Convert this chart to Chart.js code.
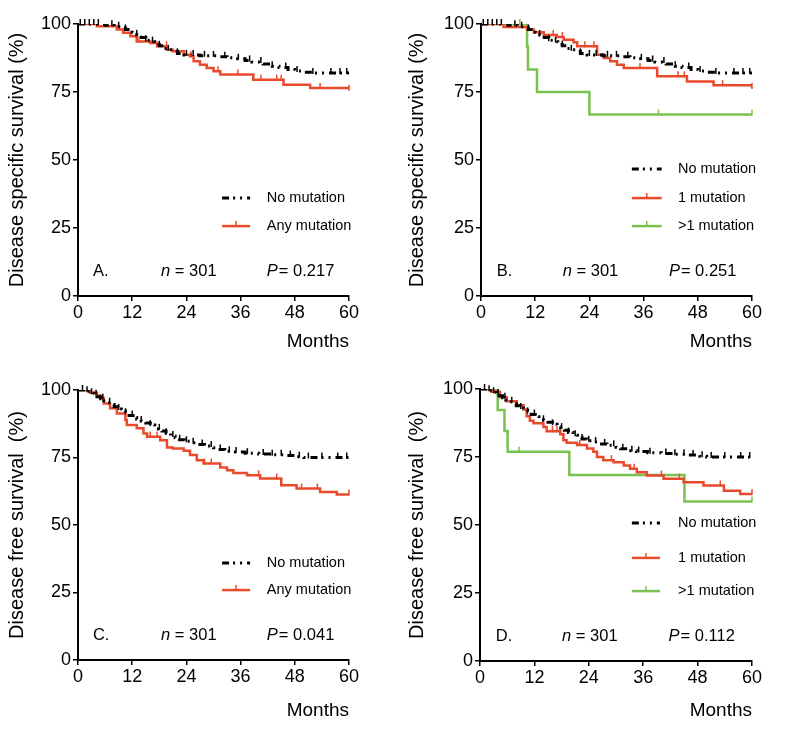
<!DOCTYPE html>
<html>
<head>
<meta charset="utf-8">
<script src="https://cdn.jsdelivr.net/npm/chart.js@4.4.1/dist/chart.umd.min.js"></script>
<style>
  body { margin: 0; background: #fff; width: 800px; height: 730px; position: relative; overflow: hidden; }
  canvas { position: absolute; }
</style>
</head>
<body>
<canvas id="panelA" width="400" height="360" style="left:0;top:0"></canvas>
<canvas id="panelB" width="400" height="360" style="left:400px;top:0"></canvas>
<canvas id="panelC" width="400" height="370" style="left:0;top:360px"></canvas>
<canvas id="panelD" width="400" height="370" style="left:400px;top:360px"></canvas>
<script>
'use strict';

// Kaplan-Meier steps as [month, survival %]
const dssNone = [[0,100],[6,99.5],[8,99],[9.5,98.5],[10.5,98],[12,97],[13,96],[14,95],[15,94],[16,93.5],[17,92.5],
  [18,92],[19,91],[20,90.5],[21,90],[22,89.2],[23.5,88.6],[27,88.3],[31,88],[33,87.6],[35,87.2],[37,86.6],
  [38.5,86],[41,85.3],[43,84.5],[44.5,84],[46.5,83.3],[48,82.7],[50,82.3],[52,82],[60,82]];
const dssAny = [[0,100],[4.2,99.2],[8.6,98],[10,96.8],[11.6,95.5],[13,93.6],[16,93],[17.5,91.8],[19.7,90.5],
  [21,90],[23.4,88.7],[24.8,88.1],[25.6,86.3],[27,85],[28.5,83.8],[30,82.6],[31.5,81.4],[38.8,79.5],
  [45.5,77.7],[51.4,76.5],[60,75.8]];
const dssOne = [[0,100],[5,98.9],[10.2,98],[11.7,97],[13.9,96],[16.8,95.2],[18.3,94.2],[20.5,93.3],[21.3,91.8],
  [25.7,88.7],[27.2,87.5],[28.6,86.3],[30.1,85],[31.6,83.8],[39,80.8],[45.6,78.9],[51.5,77.5],[60,76.5]];
const dssMulti = [[0,100],[10.2,91.7],[10.4,83.3],[12.4,75],[24,66.7],[60,66.7]];

const dfsNone = [[0,100],[2,99.5],[3,98.8],[3.5,98.2],[4.2,97.5],[5,96.8],[5.7,96],[6.4,95.3],[7.2,94.6],[8,93.8],
  [8.8,93],[9.6,92.2],[10.5,91.4],[11.3,90.6],[12.2,89.8],[13,89.2],[14,88.5],[15,87.8],[16,87],[17,86.2],
  [17.8,85.6],[18.6,84.8],[19.5,84],[20.5,83],[21.5,82.3],[22.5,81.6],[23.5,81],[25,80.5],[26,79.8],[28,79.3],
  [30,78.6],[31,78],[32.5,77.3],[34.5,77],[37,76.6],[40,76.3],[43,76],[46,75.7],[48.5,75.3],[50,75],[60,75]];
const dfsAny = [[0,100],[2.7,99],[4.2,98],[4.9,97],[5.7,95],[7.1,93.2],[8.6,91.3],[10.5,88.9],[10.8,87],[13,85.8],
  [14.5,83.9],[15.3,82.7],[18.2,81.4],[19.7,78.7],[21,78.3],[23.4,77.5],[24.8,75.9],[26.3,74],[27.8,72.8],
  [31.5,71.3],[33,70.3],[34.4,69.3],[37.4,68.4],[40.3,67.2],[45,64.7],[48.4,63.5],[53.6,62.2],[57.3,61.3],[60,61.3]];
const dfsOne = [[0,100],[2.5,99],[4.4,97],[5.9,95.5],[8.1,94],[9.6,92.5],[10.3,90],[11,88.3],[11.8,87.4],[14,86],
  [14.7,84.5],[17.7,83.4],[18.4,81.2],[19.1,80.2],[21.4,79.4],[23.6,78.1],[25,76.9],[25.8,75],[27.2,73.8],
  [29.5,73.1],[31.7,71.9],[33.1,70.7],[34.6,69.4],[36.8,68.2],[40.5,67],[44.9,65.7],[49.3,64.5],[53.8,62.6],
  [57.4,61.4],[60,61.4]];
const dfsMulti = [[0,100],[3.9,92.3],[5.4,84.6],[6.1,76.9],[19.7,68.4],[45.1,58.6],[60,58.6]];

// censored observations (months)
const dssNoneCens = [0.5,1.5,2.5,3.5,4.5,7.5,9,10.5,13,15,16.5,18,20,22,24,25.5,28,30,32.5,35.5,38,
  40.5,43,46,48.5,52,56,58,59.5];
const dssAnyCens = [13.5,19.6,25,31,35.4,40.5,44,45,53.6,60];
const dssOneCens = [16,18,23,25,35.2,43.6,45,53.5,60];
const dssMultiCens = [8.6,39.3,60];
const dfsNoneCens = [1,2,3,4,5.5,7,9,10.5,12,14,16,18,19.5,21,22.5,24,25.5,27.5,29.5,31.5,33.5,35,37.5,41,
  43,45,47,49,51,54,57.5,59.5];
const dfsAnyCens = [16,17.5,28,29.5,40,44,49.5,53,60];
const dfsOneCens = [16,17,22,29,34,40,44,53,60];
const dfsMultiCens = [8.6,60];

const monthTicks = [0, 12, 24, 36, 48, 60];
const pctTicks = [0, 25, 50, 75, 100];

const RED = '#ea4a2c', GREEN = '#79c24f', BLACK = '#000';
const BLACK_DASH = [7, 4, 2, 5, 2, 5];
const FONT = '"Liberation Sans", Arial, sans-serif';

function survivalAt(curve, t) {
  let s = curve[0][1];
  curve.forEach(function (p) { if (p[0] <= t) s = p[1]; });
  return s;
}

function series(label, curve, censor, color, dash) {
  return {
    label: label,
    data: curve.map(function (p) { return { x: p[0], y: p[1] }; }),
    curve: curve,
    censor: censor,
    borderColor: color,
    borderWidth: dash ? 3 : 2.5,
    borderDash: dash || [],
    stepped: 'before',
    pointRadius: 0,
    fill: false
  };
}

// draws censor ticks, the in-plot legend and the n / P labels
const kmExtras = {
  id: 'kmExtras',
  afterDatasetsDraw: function (chart, args, opts) {
    const ctx = chart.ctx, x = chart.scales.x, y = chart.scales.y;
    ctx.save();
    chart.data.datasets.forEach(function (ds) {
      ctx.strokeStyle = ds.borderColor;
      ctx.lineWidth = 1.5;
      ds.censor.forEach(function (t) {
        const px = x.getPixelForValue(t), py = y.getPixelForValue(survivalAt(ds.curve, t));
        ctx.beginPath(); ctx.moveTo(px, py + 1); ctx.lineTo(px, py - 5); ctx.stroke();
      });
    });

    // legend
    chart.data.datasets.forEach(function (ds, i) {
      const py = y.getPixelForValue(opts.rows[i]);
      const x0 = x.getPixelForValue(opts.sample[0]), x1 = x.getPixelForValue(opts.sample[1]);
      ctx.strokeStyle = ds.borderColor;
      ctx.lineWidth = ds.borderWidth;
      ctx.setLineDash(ds.borderDash);
      ctx.beginPath(); ctx.moveTo(x0, py); ctx.lineTo(x1, py); ctx.stroke();
      ctx.setLineDash([]);
      if (!ds.borderDash.length) {
        ctx.lineWidth = 1.5;
        ctx.beginPath(); ctx.moveTo((x0 + x1) / 2, py); ctx.lineTo((x0 + x1) / 2, py - 5); ctx.stroke();
      }
      ctx.fillStyle = '#000';
      ctx.font = '14.5px ' + FONT;
      ctx.textBaseline = 'middle';
      ctx.textAlign = 'left';
      ctx.fillText(ds.label, x.getPixelForValue(opts.textX), py);
    });

    // panel letter, n and P
    const ly = y.getPixelForValue(9);
    ctx.fillStyle = '#000';
    ctx.textBaseline = 'middle';
    ctx.font = '16.5px ' + FONT;
    ctx.fillText(opts.letter, x.getPixelForValue(opts.pos[0]), ly);
    let nx = x.getPixelForValue(opts.pos[1]);
    ctx.font = 'italic 16.5px ' + FONT;
    ctx.fillText('n', nx, ly);
    nx += ctx.measureText('n').width;
    ctx.font = '16.5px ' + FONT;
    ctx.fillText(' = 301', nx, ly);
    let pxp = x.getPixelForValue(opts.pos[2]);
    ctx.font = 'italic 16.5px ' + FONT;
    ctx.fillText('P', pxp, ly);
    pxp += ctx.measureText('P').width;
    ctx.font = '16.5px ' + FONT;
    ctx.fillText('= ' + opts.p, pxp + 1, ly);
    ctx.restore();
  }
};

function makePanel(id, yTitle, datasets, box, extras) {
  const tickFont = { family: FONT, size: 18 };
  new Chart(document.getElementById(id), {
    type: 'line',
    data: { datasets: datasets },
    plugins: [kmExtras],
    options: {
      responsive: false,
      animation: false,
      events: [],
      layout: { padding: { left: 0, top: box.top, right: box.right, bottom: 0 } },
      plugins: { legend: { display: false }, tooltip: { enabled: false }, kmExtras: extras },
      scales: {
        x: {
          type: 'linear', min: 0, max: 60,
          afterBuildTicks: function (s) { s.ticks = monthTicks.map(function (v) { return { value: v }; }); },
          afterFit: function (s) { s.height = box.xh; },
          ticks: { color: '#000', font: tickFont, padding: 1, maxRotation: 0 },
          grid: { drawOnChartArea: false, drawTicks: true, tickLength: 5, color: '#000', lineWidth: 1.5 },
          border: { color: '#000', width: 2 },
          title: { display: true, text: 'Months', align: 'end', color: '#000',
            font: { family: FONT, size: 19 }, padding: { top: 0, bottom: box.mb } }
        },
        y: {
          min: 0, max: 100,
          afterBuildTicks: function (s) { s.ticks = pctTicks.map(function (v) { return { value: v }; }); },
          afterFit: function (s) { s.width = box.left; },
          ticks: { color: '#000', font: tickFont, padding: 2 },
          grid: { drawOnChartArea: false, drawTicks: true, tickLength: 5, color: '#000', lineWidth: 1.5 },
          border: { color: '#000', width: 2 },
          title: { display: true, text: yTitle, color: '#000',
            font: { family: FONT, size: 20 }, padding: { top: 5, bottom: 0 } }
        }
      }
    }
  });
}

makePanel('panelA', 'Disease specific survival (%)', [
  series('No mutation', dssNone, dssNoneCens, BLACK, BLACK_DASH),
  series('Any mutation', dssAny, dssAnyCens, RED)
], { left: 78, top: 24, right: 51, xh: 64, mb: 7 },
{ letter: 'A.', p: '0.217', pos: [3.3, 18.4, 41.8], sample: [31.9, 38.1], textX: 41.8, rows: [36, 25.7] });

makePanel('panelB', 'Disease specific survival (%)', [
  series('No mutation', dssNone, dssNoneCens, BLACK, BLACK_DASH),
  series('1 mutation', dssOne, dssOneCens, RED),
  series('>1 mutation', dssMulti, dssMultiCens, GREEN)
], { left: 81, top: 24, right: 48, xh: 64, mb: 7 },
{ letter: 'B.', p: '0.251', pos: [3.5, 18.1, 41.6], sample: [33.4, 40], textX: 43.6, rows: [46.7, 36, 25.7] });

makePanel('panelC', 'Disease free survival  (%)', [
  series('No mutation', dfsNone, dfsNoneCens, BLACK, BLACK_DASH),
  series('Any mutation', dfsAny, dfsAnyCens, RED)
], { left: 78, top: 30, right: 51, xh: 70, mb: 8 },
{ letter: 'C.', p: '0.041', pos: [3.3, 18.4, 41.8], sample: [31.9, 38.1], textX: 41.8, rows: [35.9, 25.9] });

makePanel('panelD', 'Disease free survival  (%)', [
  series('No mutation', dfsNone, dfsNoneCens, BLACK, BLACK_DASH),
  series('1 mutation', dfsOne, dfsOneCens, RED),
  series('>1 mutation', dfsMulti, dfsMultiCens, GREEN)
], { left: 80, top: 29, right: 48, xh: 69, mb: 8 },
{ letter: 'D.', p: '0.112', pos: [3.5, 18.1, 41.6], sample: [33.5, 39.7], textX: 43.7, rows: [50.7, 37.9, 25.7] });
</script>
</body>
</html>
